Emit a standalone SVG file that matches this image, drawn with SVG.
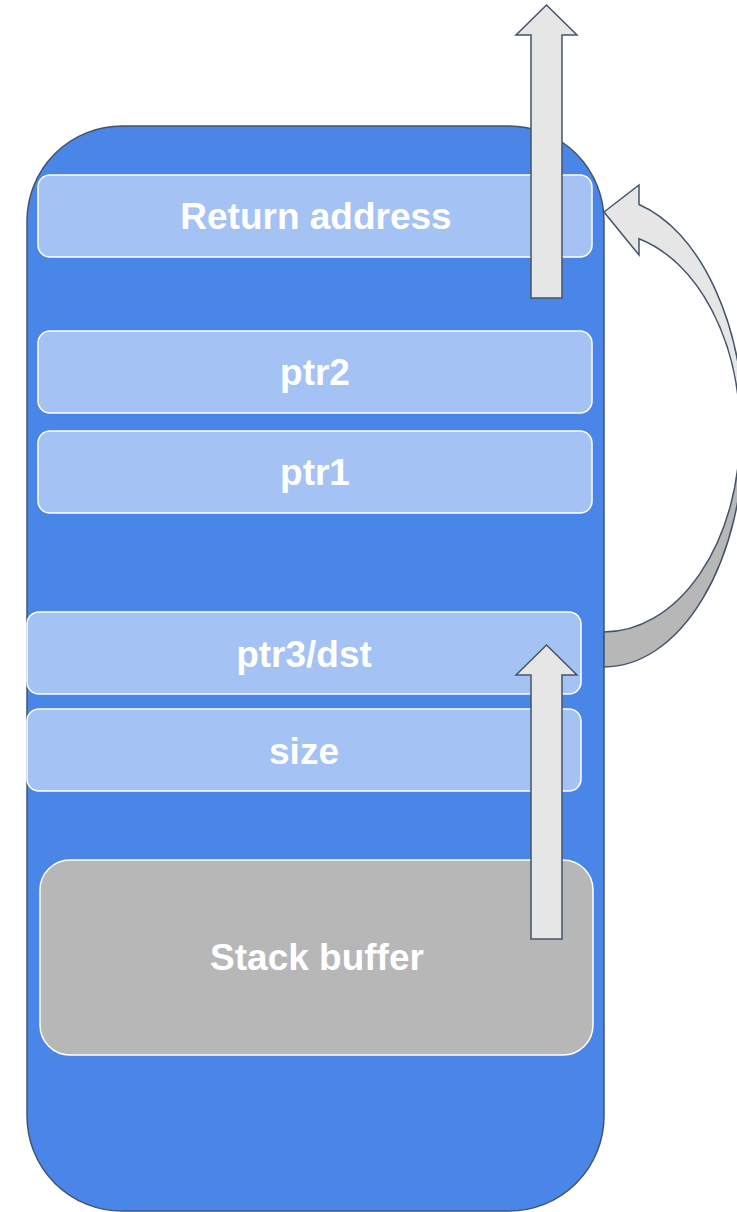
<svg xmlns="http://www.w3.org/2000/svg" width="737" height="1212" viewBox="0 0 737 1212">
<style>
.frame{fill:#4a86e8;stroke:#44546a;stroke-width:1.5}
.slot{fill:#a4c2f4;stroke:#ffffff;stroke-width:1.5}
.buf{fill:#b7b7b7;stroke:#ffffff;stroke-width:1.5}
.lbl{font-family:"Liberation Sans",Arial,sans-serif;font-weight:bold;font-size:37px;fill:#ffffff;text-anchor:middle}
.arrow{fill:#e6e6e6;stroke:#44546a;stroke-width:1.5;stroke-linejoin:miter}
.arrowdark{fill:#b7b7b7;stroke:#44546a;stroke-width:1.5}
</style>
<rect width="737" height="1212" fill="#ffffff"/>
<g id="stack">
<rect class="frame" x="27" y="126" width="577" height="1085" rx="95" ry="95"/>
</g>
<g id="return-address">
<rect class="slot" x="38" y="175" width="554" height="82" rx="12"/>
<text class="lbl" x="316" y="229">Return address</text>
</g>
<g id="ptr2">
<rect class="slot" x="38" y="331" width="554" height="82" rx="12"/>
<text class="lbl" x="315" y="385">ptr2</text>
</g>
<g id="ptr1">
<rect class="slot" x="38" y="431" width="554" height="82" rx="12"/>
<text class="lbl" x="315" y="485">ptr1</text>
</g>
<g id="ptr3-dst">
<rect class="slot" x="27" y="612" width="554" height="82" rx="12"/>
<text class="lbl" x="304" y="667">ptr3/dst</text>
</g>
<g id="size">
<rect class="slot" x="27" y="709" width="554" height="82" rx="12"/>
<text class="lbl" x="304" y="764">size</text>
</g>
<g id="stack-buffer">
<rect class="buf" x="40" y="860" width="553" height="195" rx="30"/>
<text class="lbl" x="317" y="970">Stack buffer</text>
</g>
<g id="connectors">
<polygon class="arrow" points="531,298 531,35 516,35 546.5,5 577,35 562,35 562,298"/>
<polygon class="arrow" points="531,939 531,675 516,675 546.5,645 577,675 562,675 562,939"/>
<path class="arrowdark" d="M604,632 A136,200 0 0 0 740,432 L744,432 A140,235 0 0 1 604,667 Z"/>
<path class="arrow" d="M639,204.5 A140,235 0 0 1 744,432 L740,432 A136,200 0 0 0 639,238.7 L639,255 L604,212 L639,185 Z"/>
</g>
</svg>
